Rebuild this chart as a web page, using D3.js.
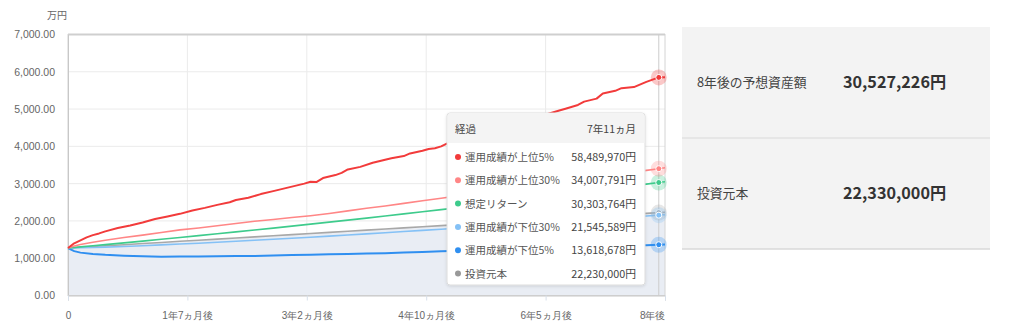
<!DOCTYPE html>
<html>
<head>
<meta charset="utf-8">
<script src="https://cdn.jsdelivr.net/npm/d3@7"></script>
<style>
  body { margin: 0; background: #fff; }
  svg { display: block; font-family: "Noto Sans CJK JP", "Noto Sans", sans-serif; }
</style>
</head>
<body>
<svg id="chart" width="1024" height="330"></svg>
<script>
// Months elapsed for every sampled point (万円 values below)
const months = [0, 1, 2, 4, 6, 9, 12, 15, 18, 21, 24, 27, 30, 33, 36, 39, 42, 45, 48, 51, 54, 57, 60, 63, 66, 69, 72, 75, 78, 81, 84, 87, 90, 93, 95, 96];
// the top-5% path is sampled more densely
const top5Months = [0, 1, 2, 3, 4, 5, 6, 8, 10, 12, 14, 16, 18, 20, 22, 24, 26, 27, 29, 31, 33, 35, 37, 38, 39, 40, 41, 43, 44, 45, 47, 49, 51, 52, 54, 55, 57, 58, 59, 60, 61, 63, 65, 67, 69, 71, 73, 75, 77, 79, 80, 82, 83, 85, 86, 88, 89, 91, 93, 95, 96];

const top5 = [1273, 1400, 1480, 1560, 1620, 1665, 1720, 1810, 1880, 1960, 2050, 2120, 2190, 2280, 2350, 2430, 2500, 2560, 2620, 2720, 2800, 2880, 2960, 3000, 3050, 3045, 3150, 3230, 3290, 3380, 3450, 3560, 3640, 3680, 3740, 3810, 3880, 3930, 3950, 4000, 4080, 4160, 4250, 4350, 4450, 4550, 4650, 4760, 4860, 4960, 5010, 5110, 5200, 5280, 5420, 5490, 5560, 5590, 5730, 5848.997, 5851];
const top30 = [1273, 1330, 1370, 1430, 1480, 1555, 1620, 1690, 1760, 1810, 1870, 1930, 1990, 2040, 2090, 2140, 2200, 2270, 2340, 2400, 2470, 2540, 2610, 2678, 2746, 2814, 2881, 2949, 3017, 3085, 3153, 3220, 3288, 3356, 3400.7791, 3425];
const expected = [1273, 1288, 1303, 1334, 1365, 1412, 1459, 1507, 1556, 1605, 1655, 1706, 1757, 1808, 1861, 1914, 1967, 2021, 2076, 2132, 2188, 2245, 2303, 2361, 2420, 2480, 2541, 2602, 2664, 2727, 2791, 2855, 2920, 2986, 3030.3764, 3052.7226];
const bottom30 = [1273, 1278, 1281, 1288, 1298, 1315, 1335, 1357, 1380, 1403, 1428, 1453, 1480, 1507, 1535, 1564, 1593, 1623, 1653, 1684, 1715, 1746, 1778, 1810, 1842, 1874, 1906, 1938, 1971, 2003, 2035, 2068, 2100, 2133, 2154.5589, 2166];
const bottom5 = [1273, 1190, 1150, 1115, 1090, 1065, 1050, 1042, 1045, 1048, 1052, 1058, 1062, 1070, 1085, 1095, 1105, 1115, 1125, 1135, 1150, 1165, 1185, 1200, 1215, 1230, 1245, 1260, 1275, 1290, 1305, 1320, 1335, 1350, 1361.8678, 1368];
const principal = [1273, 1283, 1293, 1313, 1333, 1363, 1393, 1423, 1453, 1483, 1513, 1543, 1573, 1603, 1633, 1663, 1693, 1723, 1753, 1783, 1813, 1843, 1873, 1903, 1933, 1963, 1993, 2023, 2053, 2083, 2113, 2143, 2173, 2203, 2223, 2233];

const seriesNames = ["運用成績が上位5%", "運用成績が上位30%", "想定リターン", "運用成績が下位30%", "運用成績が下位5%", "投資元本"];
const seriesColors = ["#f23b3b", "#ff8686", "#3ecb8c", "#84c1f6", "#2f8ff0", "#a8a8a8"];

const xTickMonths = [0, 19.2, 38.4, 57.6, 76.8, 96];
const xTickLabels = ["0", "1年7ヵ月後", "3年2ヵ月後", "4年10ヵ月後", "6年5ヵ月後", "8年後"];
const yTicks = [0, 1000, 2000, 3000, 4000, 5000, 6000, 7000];
const yUnit = "万円";

const hoverMonth = 95;
const hoverTitle = ["経過", "7年11ヵ月"];

const summaryLabels = ["8年後の予想資産額", "投資元本"];
const summaryValues = [30527226, 22330000];

// ---- layout ----
const svg = d3.select("#chart");
const plotL = 68, plotR = 665, plotT = 34.5, plotB = 295.5;
const x = d3.scaleLinear().domain([0, 96]).range([plotL, plotR]);
const y = d3.scaleLinear().domain([0, 7000]).range([plotB, plotT]);

const series = [top5, top30, expected, bottom30, bottom5, principal];
const seriesMonths = [top5Months, months, months, months, months, months];

// grid
svg.append("g").selectAll("line").data(yTicks.slice(1)).join("line")
  .attr("x1", plotL).attr("x2", plotR)
  .attr("y1", d => y(d)).attr("y2", d => y(d))
  .attr("stroke", "#ebebeb").attr("stroke-width", 1);
svg.append("g").selectAll("line").data(xTickMonths.slice(1, -1)).join("line")
  .attr("x1", d => x(d)).attr("x2", d => x(d))
  .attr("y1", plotT).attr("y2", plotB)
  .attr("stroke", "#ebebeb").attr("stroke-width", 1);

// principal area
const area = d3.area().x((d, i) => x(months[i])).y0(y(0)).y1(d => y(d));
svg.append("path").datum(principal).attr("d", area).attr("fill", "#e9edf4");

// border
svg.append("rect").attr("x", plotL).attr("y", plotT).attr("width", plotR - plotL).attr("height", plotB - plotT)
  .attr("fill", "none").attr("stroke", "#d4d4d4").attr("stroke-width", 1);
svg.append("line").attr("x1", plotL).attr("x2", plotR).attr("y1", plotT).attr("y2", plotT)
  .attr("stroke", "#cfcfcf").attr("stroke-width", 2);

// axes
const yAxis = d3.axisLeft(y).tickValues(yTicks).tickFormat(d3.format(",.2f")).tickSize(0).tickPadding(13);
const gy = svg.append("g").attr("transform", `translate(${plotL},0)`).call(yAxis);
gy.select(".domain").attr("stroke", "#c8c8c8");
gy.selectAll("text").attr("fill", "#666").attr("font-size", 10.5);

const xAxis = d3.axisBottom(x).tickValues(xTickMonths)
  .tickFormat((d, i) => xTickLabels[i]).tickSize(5).tickPadding(11);
const gx = svg.append("g").attr("transform", `translate(0,${plotB})`).call(xAxis);
gx.select(".domain").attr("stroke", "#c8c8c8");
gx.selectAll("line").attr("stroke", "#d8e0ea");
gx.selectAll("text").attr("fill", "#666").attr("font-size", 10);
gx.selectAll(".tick").filter((d, i) => i === xTickMonths.length - 1).select("text")
  .attr("text-anchor", "end").attr("x", 0);

svg.append("text").attr("x", 57).attr("y", 19).attr("text-anchor", "middle")
  .attr("font-size", 10).attr("fill", "#666").text(yUnit);

// hover guide
svg.append("line").attr("x1", x(hoverMonth)).attr("x2", x(hoverMonth))
  .attr("y1", plotT).attr("y2", plotB).attr("stroke", "#cccccc").attr("stroke-width", 1);

// lines (drawn bottom-up)
const order = [5, 4, 3, 2, 1, 0];
order.forEach(k => {
  const ms = seriesMonths[k];
  const line = d3.line().x((d, i) => x(ms[i])).y(d => y(d));
  svg.append("path").datum(series[k]).attr("d", line)
    .attr("fill", "none").attr("stroke", seriesColors[k])
    .attr("stroke-width", k === 0 || k === 4 ? 2 : 1.6)
    .attr("stroke-linejoin", "round");
});

// hover markers
const hoverValues = series.map((s, k) => s[seriesMonths[k].indexOf(hoverMonth)]);
order.forEach(k => {
  const cx = x(hoverMonth), cy = y(hoverValues[k]);
  svg.append("circle").attr("cx", cx).attr("cy", cy).attr("r", 8)
    .attr("fill", seriesColors[k]).attr("fill-opacity", 0.28);
  svg.append("circle").attr("cx", cx).attr("cy", cy).attr("r", 3)
    .attr("fill", seriesColors[k]).attr("stroke", "#fff").attr("stroke-width", 1);
});

// tooltip
const defs = svg.append("defs");
const f = defs.append("filter").attr("id", "sh").attr("x", "-10%").attr("y", "-10%").attr("width", "120%").attr("height", "120%");
f.append("feDropShadow").attr("dx", 0).attr("dy", 1).attr("stdDeviation", 1.5).attr("flood-color", "#000").attr("flood-opacity", 0.12);
const tip = svg.append("g");
tip.append("rect").attr("x", 447).attr("y", 113).attr("width", 198).attr("height", 172).attr("rx", 3)
  .attr("fill", "#fff").attr("stroke", "#dcdcdc").attr("filter", "url(#sh)");
tip.append("path").attr("d", "M447.5,143 V116 a3,3 0 0 1 3,-3 H641.5 a3,3 0 0 1 3,3 V143 Z").attr("fill", "#f4f4f4");
tip.append("text").attr("x", 455).attr("y", 133).attr("font-size", 10.5).attr("fill", "#444").text(hoverTitle[0]);
tip.append("text").attr("x", 636).attr("y", 133).attr("text-anchor", "end").attr("font-size", 10.5).attr("fill", "#444").text(hoverTitle[1]);
const fmtYen = v => d3.format(",")(Math.round(v * 10000)) + "円";
seriesNames.forEach((name, k) => {
  const ry = 157 + k * 23.3;
  tip.append("circle").attr("cx", 458).attr("cy", ry).attr("r", 3).attr("fill", k === 5 ? "#999" : seriesColors[k]);
  tip.append("text").attr("x", 465).attr("y", ry + 4).attr("font-size", 10.5).attr("fill", "#555").text(name);
  tip.append("text").attr("x", 636).attr("y", ry + 4).attr("text-anchor", "end").attr("font-size", 10.8).attr("fill", "#444")
    .text(fmtYen(hoverValues[k]));
});

// summary panel
const panel = svg.append("g");
panel.append("rect").attr("x", 682).attr("y", 27).attr("width", 308).attr("height", 222).attr("fill", "#f3f3f3");
panel.append("line").attr("x1", 682).attr("x2", 990).attr("y1", 138).attr("y2", 138).attr("stroke", "#d9d9d9");
panel.append("line").attr("x1", 682).attr("x2", 990).attr("y1", 249).attr("y2", 249).attr("stroke", "#d9d9d9").attr("stroke-width", 1.5);
summaryLabels.forEach((lab, i) => {
  const cy = 82 + i * 111;
  panel.append("text").attr("x", 697).attr("y", cy + 4.5).attr("font-size", 12.8).attr("fill", "#444").text(lab);
  panel.append("text").attr("x", 843).attr("y", cy + 6).attr("font-size", 16.2).attr("font-weight", "bold")
    .attr("fill", "#333").text(d3.format(",")(summaryValues[i]) + "円");
});
</script>
</body>
</html>
